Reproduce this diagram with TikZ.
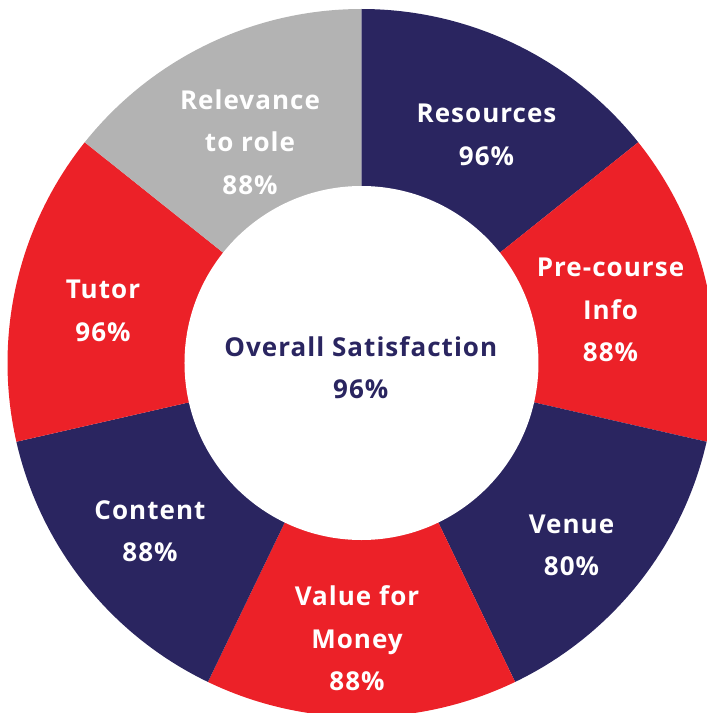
\documentclass[tikz,border=0pt]{standalone}
\usepackage{fontspec}
\setmainfont{Open Sans}[LetterSpace=4]
\definecolor{navy}{RGB}{42,37,96}
\definecolor{flagred}{RGB}{236,33,40}
\definecolor{lightgrey}{RGB}{179,179,179}

\begin{document}
\begin{tikzpicture}[x=1pt,y=1pt,
    seglabel/.style={text=white, font=\bfseries\fontsize{26}{42.5}\selectfont, align=center, inner sep=0pt}]
    \useasboundingbox (-361.5,-350) rectangle (345.5,363);
    \fill[navy] (0,0) -- (90:354) arc [start angle=90, end angle=38.571, radius=354] -- cycle;
    \fill[flagred] (0,0) -- (38.571:354) arc [start angle=38.571, end angle=-12.857, radius=354] -- cycle;
    \fill[navy] (0,0) -- (-12.857:354) arc [start angle=-12.857, end angle=-64.286, radius=354] -- cycle;
    \fill[flagred] (0,0) -- (-64.286:354) arc [start angle=-64.286, end angle=-115.714, radius=354] -- cycle;
    \fill[navy] (0,0) -- (-115.714:354) arc [start angle=-115.714, end angle=-167.143, radius=354] -- cycle;
    \fill[flagred] (0,0) -- (-167.143:354) arc [start angle=-167.143, end angle=-218.571, radius=354] -- cycle;
    \fill[lightgrey] (0,0) -- (141.429:354) arc [start angle=141.429, end angle=90, radius=354] -- cycle;
    \fill[white] (0,0) circle (177);
    \node[seglabel] (R) at (125,228) {Resources\\96\%};
    \node[seglabel] (P) at (249,53) {Pre-course\\Info\\88\%};
    \node[seglabel] (V) at (210,-182.5) {Venue\\80\%};
    \node[seglabel] (M) at (-4.5,-275.5) {Value for\\Money\\88\%};
    \node[seglabel] (C) at (-211.5,-168) {Content\\88\%};
    \node[seglabel] (T) at (-258.5,52) {Tutor\\96\%};
    \node[seglabel] (L) at (-111.5,221) {Relevance\\to role\\88\%};
    \node[seglabel, text=navy] (O) at (-0.7,-4.5) {Overall Satisfaction\\96\%};
\end{tikzpicture}
\end{document}
